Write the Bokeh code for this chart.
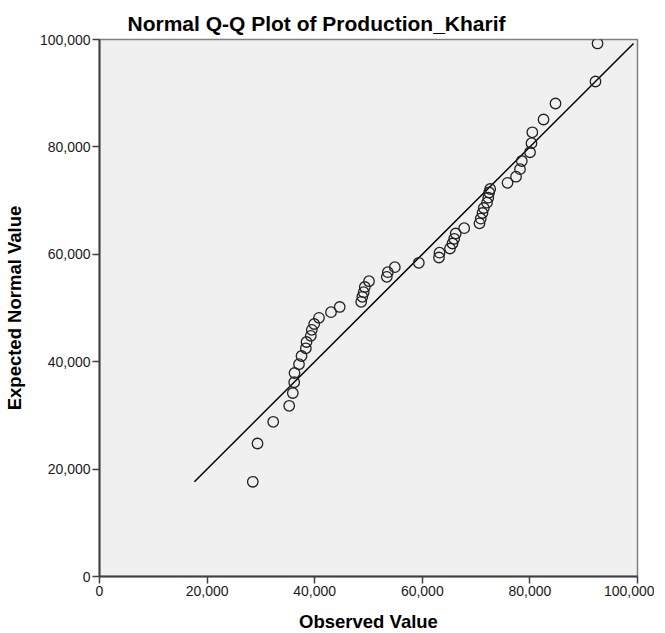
from bokeh.plotting import figure
from bokeh.models import Range1d, FixedTicker, NumeralTickFormatter, ColumnDataSource
from bokeh.embed import file_html
from bokeh.resources import INLINE

# Observed production values (Kharif) and their expected normal values
observed = [28490, 29370, 32290, 35260, 35930, 36190, 36250, 37080, 37550, 38350,
            38480, 39280, 39460, 39910, 40800, 43030, 44650, 48640, 48850, 49110,
            49310, 50090, 53400, 53590, 54890, 59350, 63100, 63200, 65150, 65610,
            65930, 66210, 67790, 70630, 70860, 71190, 71430, 72030, 72270, 72430,
            72620, 75840, 77420, 78160, 78490, 80020, 80300, 80450, 82530, 84760,
            92190, 92570]
expected = [17640, 24770, 28810, 31790, 34170, 36180, 37900, 39530, 41060, 42500,
            43670, 44820, 45940, 47020, 48170, 49220, 50190, 51150, 52090, 52940,
            53910, 54990, 55810, 56670, 57600, 58420, 59400, 60300, 61080, 62010,
            62890, 63870, 64860, 65770, 66630, 67690, 68620, 69610, 70540, 71510,
            72160, 73310, 74450, 75850, 77370, 79000, 80690, 82720, 85100, 88080,
            92180, 99260]
ref_line = [17640, 99260]
ticks = [0, 20000, 40000, 60000, 80000, 100000]

p = figure(width=654, height=624, frame_width=538, frame_height=537,
           output_backend="svg", toolbar_location=None,
           x_range=Range1d(0, 100000), y_range=Range1d(0, 100000),
           min_border_left=99, min_border_top=39, min_border_right=17, min_border_bottom=48)

p.title.text = "Normal Q-Q Plot of Production_Kharif"
p.title.text_font = "Liberation Sans"
p.title.text_font_size = "21px"
p.title.text_font_style = "bold"
p.title.align = "left"
p.title.offset = 28
p.title.text_color = "#000000"

p.background_fill_color = "#f0f0f0"
p.border_fill_color = "#ffffff"
p.outline_line_color = "#808080"
p.outline_line_width = 1.5
p.xgrid.visible = False
p.ygrid.visible = False

for ax in (p.xaxis[0], p.yaxis[0]):
    ax.ticker = FixedTicker(ticks=ticks)
    ax.formatter = NumeralTickFormatter(format="0,0")
    ax.minor_tick_line_color = None
    ax.major_tick_in = 0
    ax.major_tick_out = 7
    ax.major_tick_line_color = "#404040"
    ax.major_tick_line_width = 1.5
    ax.axis_line_color = "#404040"
    ax.axis_line_width = 2
    ax.major_label_text_font = "Liberation Sans"
    ax.major_label_text_font_size = "14px"
    ax.major_label_text_color = "#1a1a1a"
    ax.axis_label_text_font = "Liberation Sans"
    ax.axis_label_text_font_size = "18.5px"
    ax.axis_label_text_font_style = "bold"
    ax.axis_label_text_color = "#000000"
    ax.major_label_standoff = 2

p.xaxis.axis_label = "Observed Value"
p.yaxis.axis_label = "Expected Normal Value"
p.xaxis.axis_label_standoff = 12
p.yaxis.axis_label_standoff = 12

p.line(x=ref_line, y=ref_line, line_color="#000000", line_width=1.5)

src = ColumnDataSource(dict(x=observed, y=expected))
p.scatter("x", "y", source=src, marker="circle", size=10.5, fill_color=None,
          line_color="#222222", line_width=1.3)

open("out.html", "w").write(file_html(p, INLINE))
